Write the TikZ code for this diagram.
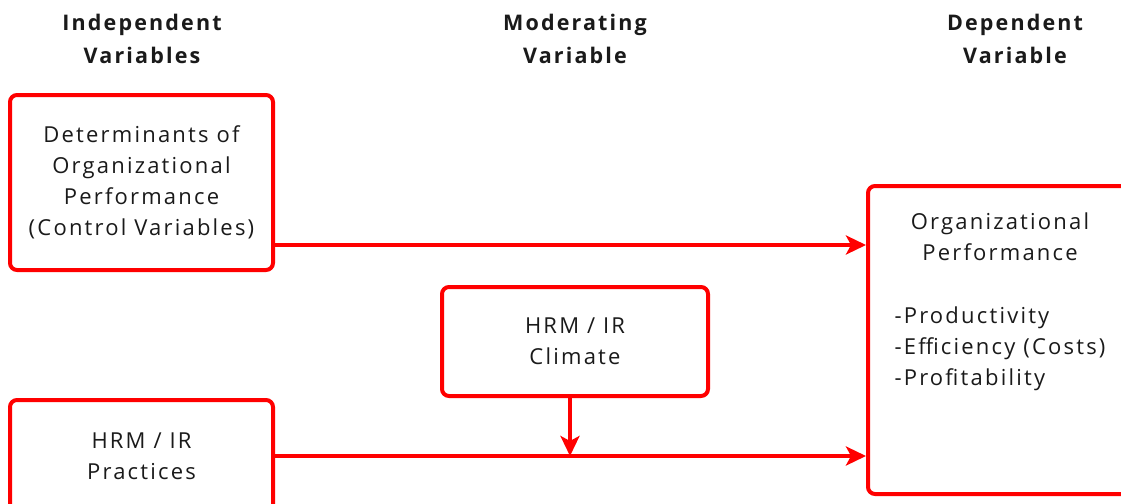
\documentclass[tikz,border=0pt]{standalone}
\usepackage{fontspec}
\setmainfont{Open Sans}[LetterSpace=10]
\usepackage{tikz}
\usetikzlibrary{arrows.meta,positioning,calc}
\definecolor{hrmred}{HTML}{FF0000}
\definecolor{hrmink}{HTML}{1A1A1A}
\tikzset{
  box/.style    = {rectangle, rounded corners=7pt, draw=hrmred, line width=4pt,
                   fill=white, align=center, text=hrmink, inner sep=4pt,
                   font=\fontsize{22}{31}\selectfont},
  txt/.style    = {align=center, text=hrmink, inner sep=0pt,
                   font=\fontsize{22}{31}\selectfont},
  head/.style   = {align=center, text=hrmink, inner sep=0pt,
                   font=\fontsize{21.5}{33}\selectfont\bfseries},
  flow/.style   = {-{Stealth[length=20pt, width=19pt, inset=5pt]}, line width=4pt,
                   draw=hrmred},
}
\begin{document}
\begin{tikzpicture}[x=1pt, y=-1pt]
\useasboundingbox[fill=white] (0,0) rectangle (1121,503);

% boxes
\node[box, minimum width=263pt, minimum height=175pt] (det) at (141.5,182.5)
  {Determinants of\\Organizational\\Performance\\(Control Variables)};
\node[box, minimum width=263pt, minimum height=112pt, anchor=north] (prac) at (141.5,398)
  {HRM / IR\\Practices};
\node[box, minimum width=266pt, minimum height=109pt] (clim) at (575,341.5)
  {HRM / IR\\Climate};
\node[box, minimum width=268pt, minimum height=308pt, anchor=north west] (perf) at (866,184) {};
\node[txt, anchor=north] (perftxt) at (1000,213)
  {Organizational\\Performance\\[40pt]
   \begin{tabular}{@{}l@{}}-Productivity\\-Efficiency (Costs)\\-Profitability\end{tabular}};

% column headings
\node[head] (indep) at (142,39) {Independent\\Variables};
\node[head] (moder) at (575,39) {Moderating\\Variable};
\node[head] (dep)   at (1015,39) {Dependent\\Variable};

% connectors
\draw[flow] ([yshift=27pt]det.south east) coordinate (detout) -- (detout -| perf.west);
\draw[flow] (prac.east) -- (prac.east -| perf.west);
\draw[flow] ([xshift=-5pt]clim.south) coordinate (climout) -- (climout |- prac.east);

\end{tikzpicture}
\end{document}
